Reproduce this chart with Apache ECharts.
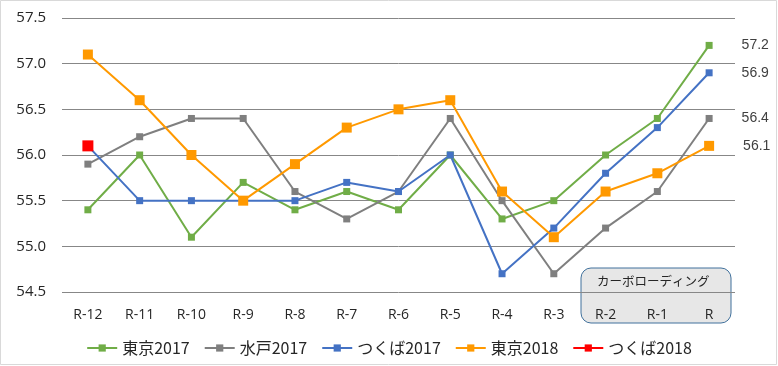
<!DOCTYPE html>
<html><head><meta charset="utf-8">
<script src="https://cdn.jsdelivr.net/npm/echarts@6/dist/echarts.min.js"></script>
<style>html,body{margin:0;padding:0;background:#fff}#c{width:778px;height:366px}</style>
</head><body><div id="c"></div>
<script>
var categories = ['R-12','R-11','R-10','R-9','R-8','R-7','R-6','R-5','R-4','R-3','R-2','R-1','R'];
var tokyo2017 = [55.4,56.0,55.1,55.7,55.4,55.6,55.4,56.0,55.3,55.5,56.0,56.4,57.2];
var mito2017 = [55.9,56.2,56.4,56.4,55.6,55.3,55.6,56.4,55.5,54.7,55.2,55.6,56.4];
var tsukuba2017 = [56.1,55.5,55.5,55.5,55.5,55.7,55.6,56.0,54.7,55.2,55.8,56.3,56.9];
var tokyo2018 = [57.1,56.6,56.0,55.5,55.9,56.3,56.5,56.6,55.6,55.1,55.6,55.8,56.1];
var tsukuba2018 = [56.1,null,null,null,null,null,null,null,null,null,null,null,null];
var seriesNames = ['東京2017','水戸2017','つくば2017','東京2018','つくば2018'];
var boxText = 'カーボローディング';

function lastLabel(arr){
  return arr.map(function(v,i){
    if(i===arr.length-1){return {value:v,label:{show:true,position:'right',distance:29,color:'#404040',fontSize:14,fontFamily:'Liberation Sans',formatter:function(p){return p.value.toFixed(1);}}};}
    return v;
  });
}
var chart = echarts.init(document.getElementById('c'));
var numFont = 'Open Sans';
chart.setOption({
  animation:false,
  grid:{left:62,right:43,top:18,bottom:74},
  graphic:[
    {type:'rect',z:-10,silent:true,shape:{x:0.5,y:0.5,width:776,height:364},style:{fill:'#fff',stroke:'#d9d9d9',lineWidth:1}},
    {type:'rect',z:-5,silent:true,shape:{x:581,y:268,width:150,height:55,r:10},style:{fill:'#e7e7e7',stroke:'#41719c',lineWidth:1}},
    {type:'text',z:-4,silent:true,left:597,top:275,style:{text:boxText,fill:'#262626',font:'12.5px "Noto Sans CJK JP"'}}
  ],
  legend:{
    bottom:5,left:'center',itemGap:14,itemWidth:30,itemHeight:9,
    textStyle:{color:'#262626',fontSize:16,fontFamily:'Noto Sans CJK JP'},
    data:seriesNames
  },
  xAxis:{type:'category',data:categories,boundaryGap:true,
    axisLine:{show:false},axisTick:{show:false},
    axisLabel:{color:'#262626',fontSize:14,fontFamily:numFont,margin:16}},
  yAxis:{type:'value',min:54.5,max:57.5,interval:0.5,
    axisLine:{show:false},axisTick:{show:false},
    splitLine:{lineStyle:{color:'#878787',width:1}},
    axisLabel:{color:'#262626',fontSize:15,fontFamily:numFont,margin:16,formatter:function(v){return v.toFixed(1);}}},
  series:[
    {name:seriesNames[0],type:'line',data:lastLabel(tokyo2017),symbol:'rect',symbolSize:7,itemStyle:{color:'#70ad47'},lineStyle:{color:'#70ad47',width:2}},
    {name:seriesNames[1],type:'line',data:lastLabel(mito2017),symbol:'rect',symbolSize:7,itemStyle:{color:'#7f7f7f'},lineStyle:{color:'#7f7f7f',width:2}},
    {name:seriesNames[2],type:'line',data:lastLabel(tsukuba2017),symbol:'rect',symbolSize:7,itemStyle:{color:'#4472c4'},lineStyle:{color:'#4472c4',width:2}},
    {name:seriesNames[3],type:'line',data:lastLabel(tokyo2018),symbol:'rect',symbolSize:10,itemStyle:{color:'#ff9900'},lineStyle:{color:'#ff9900',width:2}},
    {name:seriesNames[4],type:'line',data:tsukuba2018,symbol:'rect',symbolSize:11,itemStyle:{color:'#ff0000'},lineStyle:{color:'#ff0000',width:4}}
  ]
});
</script></body></html>
